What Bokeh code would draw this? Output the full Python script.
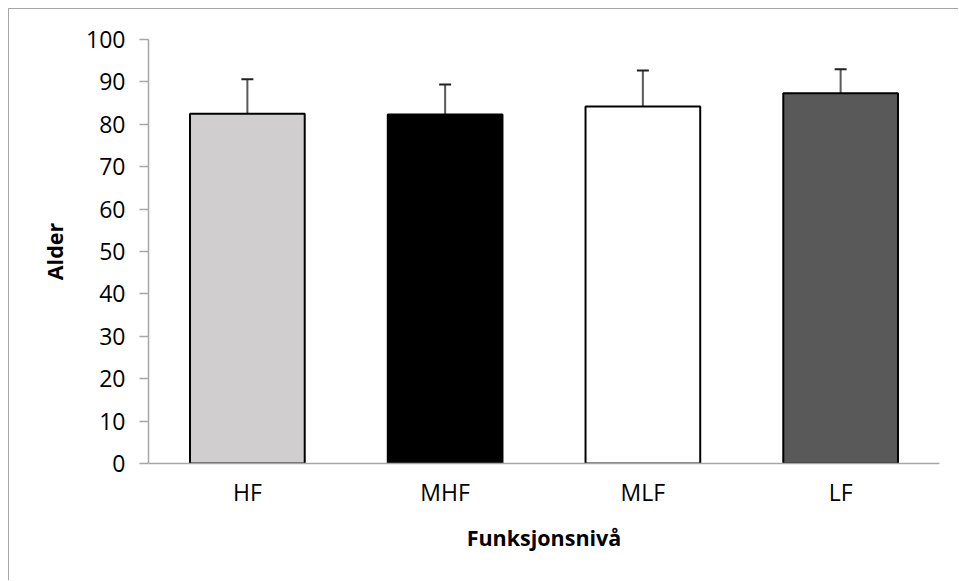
from bokeh.plotting import figure
from bokeh.models import ColumnDataSource, FactorRange, Range1d, Whisker, TeeHead
from bokeh.embed import file_html
from bokeh.resources import INLINE

categories = ["HF", "MHF", "MLF", "LF"]
values = [82.5, 82.3, 84.2, 87.3]
errors = [8.1, 7.1, 8.5, 5.7]
colors = ["#d0cece", "#000000", "#ffffff", "#595959"]
y_ticks = [0, 10, 20, 30, 40, 50, 60, 70, 80, 90, 100]

upper = [v + e for v, e in zip(values, errors)]
src = ColumnDataSource(dict(cat=categories, val=values, up=upper, col=colors))

FONT = "Open Sans"
p = figure(x_range=FactorRange(*categories), y_range=Range1d(0, 100),
           width=950, height=572, output_backend="svg", toolbar_location=None,
           min_border_left=139, min_border_top=30, min_border_right=20,
           min_border_bottom=118)
p.styles = {"margin-left": "8px", "margin-top": "8px",
            "border-top": "1px solid #a6a6a6", "border-left": "1px solid #a6a6a6"}
p.outline_line_color = None
p.xgrid.grid_line_color = None
p.ygrid.grid_line_color = None

p.vbar(x="cat", top="val", bottom=0, width=0.58, source=src, fill_color="col",
       line_color="#000000", line_width=2)

w = Whisker(base="cat", lower="val", upper="up", source=src,
            line_color="#595959", line_width=2,
            upper_head=TeeHead(size=12, line_color="#202020", line_width=2),
            lower_head=None)
p.add_layout(w)

p.yaxis.ticker = y_ticks
p.yaxis.axis_label = "Alder"
p.xaxis.axis_label = "Funksjonsnivå"
for ax in (p.xaxis[0], p.yaxis[0]):
    ax.axis_line_color = "#a6a6a6"
    ax.axis_line_width = 1.5
    ax.major_tick_line_color = "#a6a6a6"
    ax.major_tick_line_width = 1.5
    ax.minor_tick_line_color = None
    ax.major_label_text_font = FONT
    ax.major_label_text_font_size = "23px"
    ax.major_label_text_color = "#000000"
    ax.axis_label_text_font = FONT
    ax.axis_label_text_font_size = "21.5px"
    ax.axis_label_text_font_style = "bold"
    ax.axis_label_text_color = "#000000"
p.yaxis.major_tick_out = 9
p.yaxis.major_tick_in = 0
p.yaxis.major_label_standoff = 14
p.yaxis.axis_label_standoff = 14
p.xaxis.major_tick_line_color = None
p.xaxis.major_tick_out = 0
p.xaxis.major_tick_in = 0
p.xaxis.major_label_standoff = 12
p.xaxis.axis_label_standoff = 12

open("out.html", "w").write(file_html(p, INLINE))
